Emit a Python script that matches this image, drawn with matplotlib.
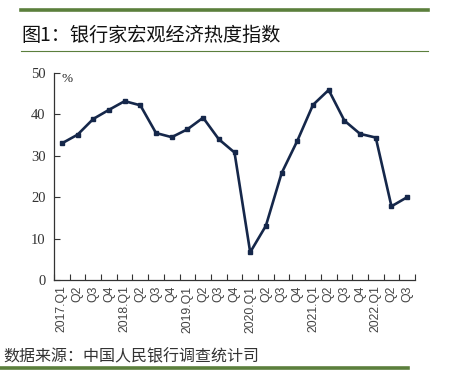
import matplotlib
matplotlib.use('Agg')
import matplotlib.pyplot as plt
from matplotlib.lines import Line2D

plt.rcParams['font.family'] = ['Noto Sans CJK SC', 'DejaVu Sans']

# quarterly labels, 2017Q1 .. 2022Q3
quarters = ['2017.Q1', 'Q2', 'Q3', 'Q4',
            '2018.Q1', 'Q2', 'Q3', 'Q4',
            '2019.Q1', 'Q2', 'Q3', 'Q4',
            '2020.Q1', 'Q2', 'Q3', 'Q4',
            '2021.Q1', 'Q2', 'Q3', 'Q4',
            '2022.Q1', 'Q2', 'Q3']
heat_index = [33.0, 35.1, 38.9, 41.1,
              43.2, 42.2, 35.5, 34.5,
              36.4, 39.2, 34.0, 30.8,
              6.7, 13.1, 25.8, 33.6,
              42.3, 45.9, 38.5, 35.3,
              34.4, 17.8, 20.0]
yticks = [0, 10, 20, 30, 40, 50]

green = '#5b7f3c'
navy = '#15274a'

fig = plt.figure(figsize=(4.49, 3.72), dpi=100)

# title bar lines
fig.add_artist(Line2D([21/449, 428/449], [1-10/372, 1-10/372], color=green, lw=2.6))
fig.add_artist(Line2D([21/449, 428/449], [1-51/372, 1-51/372], color=green, lw=0.8))
fig.add_artist(Line2D([0/449, 408/449], [1-368/372, 1-368/372], color=green, lw=2.6))

fig.text(21/449, 1-35/372, '图1：银行家宏观经济热度指数', fontsize=13.8, color='#111111',
         va='center', ha='left')
fig.text(3/449, 1-357/372, '数据来源：中国人民银行调查统计司', fontsize=11.5, color='#333333',
         va='center', ha='left')

ax = fig.add_axes([54/449, 1-280/372, (415-54)/449, (280-73)/372])
x = list(range(len(quarters)))
ax.plot(x, heat_index, color=navy, lw=1.9, marker='s', markersize=3.2)

ax.set_xlim(-0.5, len(quarters) - 0.5)
ax.set_ylim(0, 50)
ax.set_yticks(yticks)
ax.set_yticklabels([str(v) for v in yticks], family='Liberation Serif', fontsize=10.5, color='#333333')
ax.set_xticks(x)
ax.set_xticklabels(quarters, rotation=90, family='Liberation Sans', fontsize=8.8, color='#444444')
ax.set_xticks([i - 0.5 for i in range(len(quarters) + 1)], minor=True)
ax.tick_params(axis='x', which='major', length=0, pad=4)
ax.tick_params(axis='x', which='minor', direction='in', length=4, color='#333333', width=0.8)
ax.tick_params(axis='y', direction='in', length=4, color='#333333', width=0.8, pad=6)

for s in ['top', 'right']:
    ax.spines[s].set_visible(False)
for s in ['left', 'bottom']:
    ax.spines[s].set_color('#333333')
    ax.spines[s].set_linewidth(0.9)

ax.text(0.0, 48.5, '%', family='Liberation Serif', fontsize=9.5, color='#222222', va='center')

fig.savefig('out.png', dpi=100)
